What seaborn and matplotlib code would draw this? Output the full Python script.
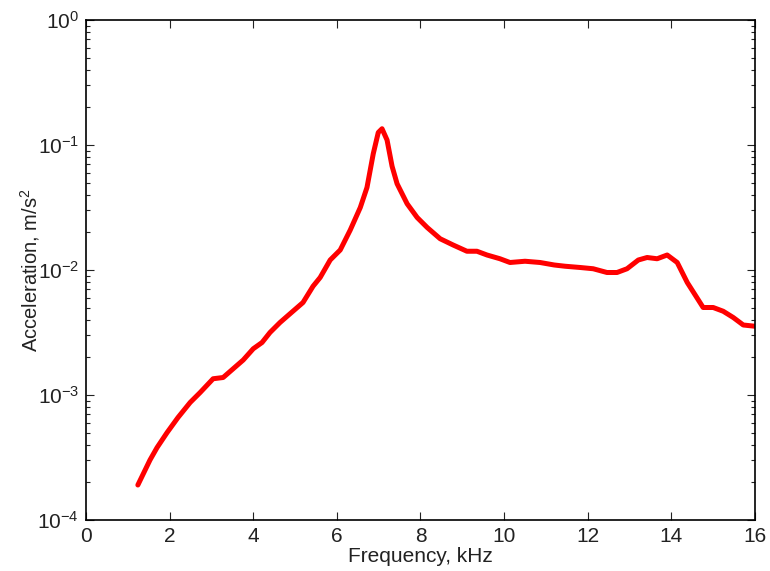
import numpy as np
import pandas as pd
import matplotlib
matplotlib.use('Agg')
import matplotlib.pyplot as plt
import matplotlib.ticker as mticker
import seaborn as sns

# -----------------------------
# Data
# -----------------------------

freq_khz = [1.24, 1.53, 1.70, 1.94, 2.20, 2.49, 2.73, 3.04, 3.28, 3.52, 3.76,
            4.00, 4.21, 4.40, 4.64, 4.88, 5.19, 5.43, 5.60, 5.84, 6.08, 6.32,
            6.56, 6.72, 6.87, 6.99, 7.08, 7.20, 7.32, 7.44, 7.68, 7.92, 8.16,
            8.47, 8.78, 9.11, 9.35, 9.59, 9.90, 10.14, 10.50, 10.86, 11.20,
            11.46, 11.82, 12.13, 12.46, 12.70, 12.94, 13.21, 13.42, 13.66,
            13.90, 14.14, 14.38, 14.57, 14.76, 15.00, 15.24, 15.48, 15.72, 16.00]

log_accel = [-3.72, -3.52, -3.42, -3.30, -3.18, -3.06, -2.98, -2.87, -2.86,
             -2.79, -2.72, -2.63, -2.58, -2.50, -2.42, -2.35, -2.26, -2.13,
             -2.06, -1.92, -1.84, -1.68, -1.50, -1.34, -1.07, -0.90, -0.87,
             -0.96, -1.17, -1.31, -1.47, -1.58, -1.66, -1.75, -1.80, -1.85,
             -1.85, -1.88, -1.91, -1.94, -1.93, -1.94, -1.96, -1.97, -1.98,
             -1.99, -2.02, -2.02, -1.99, -1.92, -1.90, -1.91, -1.88, -1.94,
             -2.10, -2.20, -2.30, -2.30, -2.33, -2.38, -2.44, -2.45]

accel = [10 ** v for v in log_accel]

x_ticks = [0, 2, 4, 6, 8, 10, 12, 14, 16]

df = pd.DataFrame({"freq": freq_khz, "accel": accel})

# -----------------------------
# Plot
# -----------------------------

sns.set_style("ticks")
plt.rcParams['font.family'] = ['Liberation Sans', 'DejaVu Sans']
plt.rcParams['mathtext.fontset'] = 'custom'
plt.rcParams['mathtext.rm'] = 'Liberation Sans'
plt.rcParams['mathtext.default'] = 'regular'

fig = plt.figure(figsize=(7.7, 5.71), dpi=100)
ax = fig.add_axes([0.1117, 0.0893, 0.8688, 0.8757])

sns.lineplot(data=df, x="freq", y="accel", ax=ax, color="#ff0000",
             linewidth=3.6, sort=False, solid_joinstyle="round",
             solid_capstyle="round")

ax.set_yscale("log")
ax.set_xlim(0, 16)
ax.set_ylim(1e-4, 1e0)
ax.set_xticks(x_ticks)
ax.set_xticklabels([str(t) for t in x_ticks])
ax.yaxis.set_major_locator(mticker.LogLocator(base=10, numticks=10))
ax.yaxis.set_minor_locator(mticker.LogLocator(base=10, subs=np.arange(2, 10), numticks=10))
ax.yaxis.set_minor_formatter(mticker.NullFormatter())

ax.tick_params(which="both", direction="in", top=True, right=True,
               labelsize=15, colors="#222222", labelcolor="#222222")
ax.tick_params(which="major", length=6, width=0.8, pad=5)
ax.tick_params(which="minor", length=3, width=0.8)

for side in ax.spines.values():
    side.set_visible(True)
    side.set_linewidth(1.2)
    side.set_color("black")

ax.set_xlabel("Frequency, kHz", fontsize=15, labelpad=1, color="#222222")
ax.set_ylabel("Acceleration, m/s$^2$", fontsize=14.5, labelpad=-3, color="#222222")

fig.savefig("out.png", dpi=100)
plt.close(fig)
